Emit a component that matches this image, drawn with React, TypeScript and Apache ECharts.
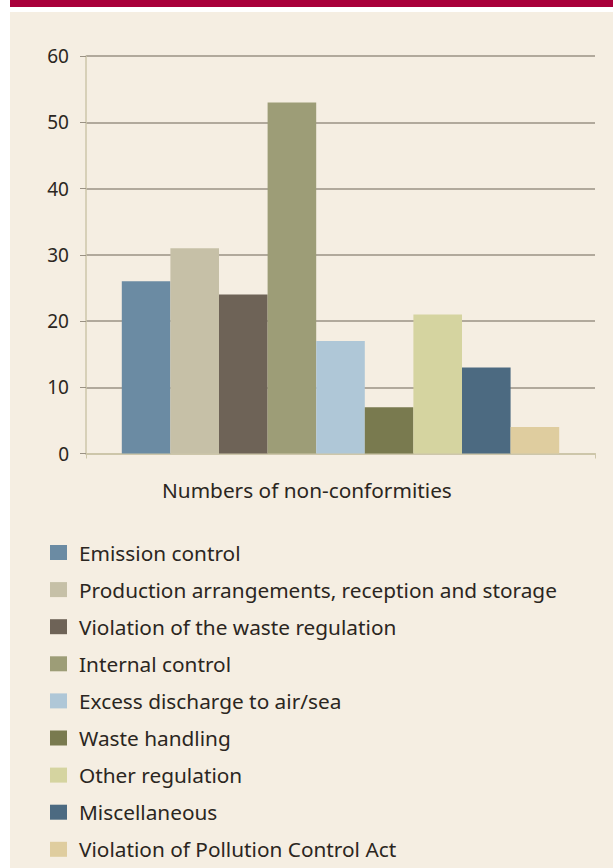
import React, { useEffect, useRef } from "react";
import * as echarts from "echarts";

const seriesNames = [
  "Emission control",
  "Production arrangements, reception and storage",
  "Violation of the waste regulation",
  "Internal control",
  "Excess discharge to air/sea",
  "Waste handling",
  "Other regulation",
  "Miscellaneous",
  "Violation of Pollution Control Act",
];
const seriesValues = [26, 31, 24, 53, 17, 7, 21, 13, 4];
const seriesColors = [
  "#6b8ba3",
  "#c6c0a7",
  "#6e6357",
  "#9d9d77",
  "#afc7d7",
  "#797a4f",
  "#d5d4a0",
  "#4c6a81",
  "#dfcd9f",
];
const categories = ["Numbers of non-conformities"];
const yTicks = [0, 10, 20, 30, 40, 50, 60];

const FONT = "'Noto Sans', 'Open Sans', sans-serif";
const TEXT = "#2b2621";

export default function App() {
  const ref = useRef<HTMLDivElement>(null);
  useEffect(() => {
    if (!ref.current) return;
    const chart = echarts.init(ref.current, undefined, { renderer: "svg" });
    chart.setOption({
      animation: false,
      backgroundColor: "#ffffff",
      graphic: [
        { type: "rect", z: -10, shape: { x: 10, y: 0, width: 603, height: 7 }, style: { fill: "#a8003a" } },
        { type: "rect", z: -10, shape: { x: 10, y: 12, width: 603, height: 856 }, style: { fill: "#f5eee2" } },
      ],
      title: {
        text: categories[0],
        left: 162,
        top: 479,
        padding: 0,
        textStyle: { fontFamily: FONT, fontSize: 20.8, fontWeight: "normal", color: TEXT },
      },
      legend: seriesNames.map((name, i) => ({
        orient: "vertical",
        left: 50,
        top: 542 + i * 37.1,
        padding: 0,
        itemWidth: 17,
        itemHeight: 15,
        icon: "rect",
        selectedMode: false,
        data: [name],
        textStyle: { fontFamily: FONT, fontSize: 20.8, color: TEXT, padding: [0, 0, 0, 7] },
      })),
      grid: { left: 86, right: 18, top: 56, height: 397.5 },
      xAxis: {
        type: "category",
        data: categories,
        axisLine: { show: true, lineStyle: { color: "#cdc6aa", width: 2 } },
        axisTick: { show: true, length: 5, lineStyle: { color: "#cdc6aa" } },
        axisLabel: { show: false },
      },
      yAxis: {
        type: "value",
        min: 0,
        max: 60,
        interval: 10,
        axisLine: { show: true, lineStyle: { color: "#cdc6aa", width: 1.5 } },
        axisTick: { show: true, length: 6, lineStyle: { color: "#9a9284" } },
        axisLabel: {
          margin: 17,
          fontFamily: FONT,
          fontSize: 19,
          color: TEXT,
          formatter: (v: number) => (yTicks.includes(v) ? String(v) : ""),
        },
        splitLine: { show: true, lineStyle: { color: "#9a9284", width: 1.5 } },
      },
      series: seriesNames.map((name, i) => ({
        name,
        type: "bar",
        barWidth: 48.6,
        barGap: "0%",
        itemStyle: { color: seriesColors[i] },
        data: [seriesValues[i]],
      })),
    });
    return () => chart.dispose();
  }, []);
  return (
    <div
      ref={ref}
      style={{ position: "fixed", left: 0, top: 0, width: 613, height: 868 }}
    />
  );
}
